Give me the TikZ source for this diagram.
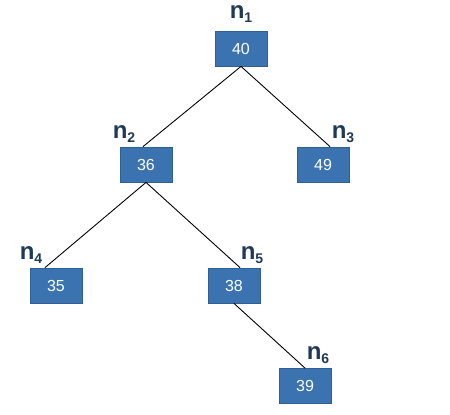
\documentclass[tikz,border=0pt]{standalone}
\usepackage{fontspec}
\setmainfont{Liberation Sans}
\definecolor{boxblue}{HTML}{3A73B0}
\definecolor{boxedge}{HTML}{2F5F95}
\definecolor{labnavy}{HTML}{1E3A56}
\newcommand{\nsub}[1]{n\raisebox{-4pt}{\fontsize{14}{14}\selectfont #1}}
\begin{document}
\begin{tikzpicture}[x=1pt,y=-1pt,
  valbox/.style={draw=boxedge,line width=0.8pt,fill=boxblue,minimum width=52pt,minimum height=35pt,inner sep=0pt,text=white,font=\fontsize{16}{16}\selectfont},
  nlab/.style={text=labnavy,inner sep=0pt,font=\fontsize{24}{24}\selectfont\bfseries},
  edge/.style={draw=black,line width=0.9pt}]
\useasboundingbox (0,0) rectangle (450,415);
\node[valbox] (n1) at (241,48.5) {40};
\node[valbox] (n2) at (146,164.5) {36};
\node[valbox] (n3) at (323,164.5) {49};
\node[valbox] (n4) at (56,285.5) {35};
\node[valbox] (n5) at (234,285.5) {38};
\node[valbox] (n6) at (305,386) {39};
\node[nlab] (l1) at (241,14.5) {\nsub{1}};
\node[nlab] (l2) at (124,134) {\nsub{2}};
\node[nlab] (l3) at (343,134) {\nsub{3}};
\node[nlab] (l4) at (31,255) {\nsub{4}};
\node[nlab] (l5) at (252,255) {\nsub{5}};
\node[nlab] (l6) at (318,355) {\nsub{6}};
\draw[edge] (n1.south) -- ([xshift=-3pt]n2.north);
\draw[edge] (n1.south) -- ([xshift=7pt]n3.north);
\draw[edge] (n2.south) -- ([xshift=-11pt]n4.north);
\draw[edge] (n2.south) -- ([xshift=6pt]n5.north);
\draw[edge] (n5.south) -- (n6.north);
\end{tikzpicture}
\end{document}
